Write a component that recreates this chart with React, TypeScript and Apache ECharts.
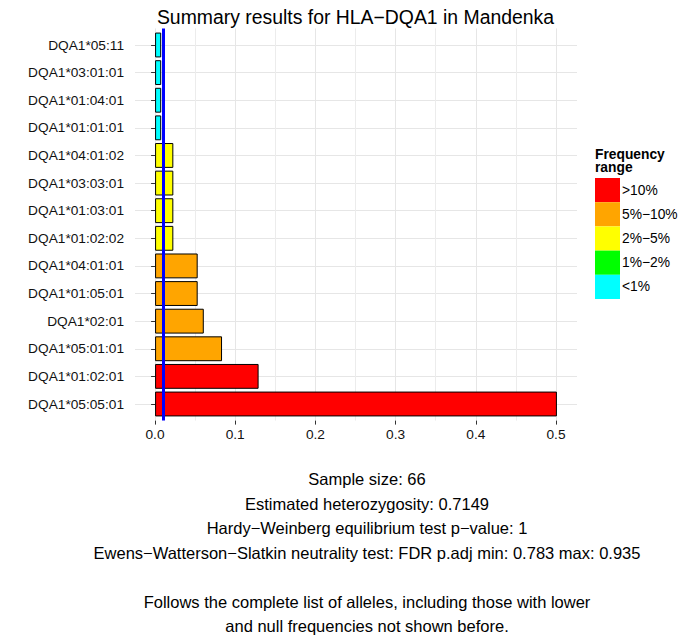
import React, { useEffect, useRef } from "react";
import * as echarts from "echarts";

const alleles = [
  "DQA1*05:11",
  "DQA1*03:01:01",
  "DQA1*01:04:01",
  "DQA1*01:01:01",
  "DQA1*04:01:02",
  "DQA1*03:03:01",
  "DQA1*01:03:01",
  "DQA1*01:02:02",
  "DQA1*04:01:01",
  "DQA1*01:05:01",
  "DQA1*02:01",
  "DQA1*05:01:01",
  "DQA1*01:02:01",
  "DQA1*05:05:01",
];
const frequencies = [
  0.0076, 0.0076, 0.0076, 0.0076, 0.0227, 0.0227, 0.0227, 0.0227, 0.053, 0.053,
  0.0606, 0.0833, 0.1288, 0.5,
];
const rangeNames = [">10%", "5%\u221210%", "2%\u22125%", "1%\u22122%", "<1%"];
const rangeLower = [0.1, 0.05, 0.02, 0.01, 0];
const rangeColors = ["#FF0000", "#FFA500", "#FFFF00", "#00FF00", "#00FFFF"];
const xTicks = [0, 0.1, 0.2, 0.3, 0.4, 0.5];
const thresholdLine = 0.0073;
const titleText = "Summary results for HLA\u2212DQA1 in Mandenka";
const footerLines = [
  "Sample size: 66",
  "Estimated heterozygosity: 0.7149",
  "Hardy\u2212Weinberg equilibrium test p\u2212value: 1",
  "Ewens\u2212Watterson\u2212Slatkin neutrality test: FDR p.adj min: 0.783 max: 0.935",
  "",
  "Follows the complete list of alleles, including those with lower",
  "and null frequencies not shown before.",
];

const FONT = "'Liberation Sans', Arial, Helvetica, sans-serif";

function rangeIndex(v: number): number {
  for (let i = 0; i < rangeLower.length; i++) {
    if (v > rangeLower[i]) return i;
  }
  return rangeLower.length - 1;
}

export default function App() {
  const ref = useRef<HTMLDivElement>(null);
  useEffect(() => {
    document.body.style.margin = "0";
    if (!ref.current) return;
    const chart = echarts.init(ref.current, null, { renderer: "svg" });

    const panelL = 135;
    const panelR = 577;
    const panelT = 28.4;
    const panelB = 420.6;
    const catTop = 45;
    const catBot = 404;
    const step = (catBot - catTop) / (alleles.length - 1);
    const zeroX = 155;
    const fullX = 556;

    const barSeries = rangeNames.map((name, ri) => ({
      name,
      type: "bar",
      stack: "total",
      xAxisIndex: 0,
      yAxisIndex: 0,
      barWidth: "90%",
      itemStyle: {
        color: rangeColors[ri],
        borderColor: "#000",
        borderWidth: 1,
      },
      data: frequencies.map((v) => (rangeIndex(v) === ri ? v : "-")),
    }));

    const footerGraphics = footerLines.map((t, i) => ({
      type: "text",
      x: 367,
      y: 479 + i * 24.5,
      style: {
        text: t,
        fill: "#000",
        font: `16.5px ${FONT}`,
        textAlign: "center",
        textVerticalAlign: "middle",
      },
    }));

    chart.setOption({
      animation: false,
      backgroundColor: "#fff",
      textStyle: { fontFamily: FONT },
      legend: {
        orient: "vertical",
        left: 595,
        top: 178,
        itemWidth: 25,
        itemHeight: 24.2,
        itemGap: 0,
        padding: 0,
        icon: "rect",
        data: rangeNames,
        itemStyle: { borderWidth: 0 },
        textStyle: { fontSize: 13.8, color: "#000", fontFamily: FONT, padding: [0, 0, 0, -3] },
        selectedMode: false,
      },
      grid: [
        {
          left: panelL,
          width: panelR - panelL,
          top: catTop - step / 2,
          height: step * alleles.length,
          containLabel: false,
        },
        {
          left: zeroX,
          width: fullX - zeroX,
          top: panelT,
          height: panelB - panelT,
          containLabel: false,
        },
        {
          left: panelL,
          width: panelR - panelL,
          top: catTop,
          height: catBot - catTop,
          containLabel: false,
        },
      ],
      xAxis: [
        {
          type: "value",
          gridIndex: 0,
          min: -0.025,
          max: 0.525,
          show: false,
        },
        {
          type: "value",
          gridIndex: 1,
          min: xTicks[0],
          max: xTicks[xTicks.length - 1],
          interval: 0.1,
          axisLine: { show: false },
          axisTick: { show: true, length: 4, lineStyle: { color: "#333", width: 1 } },
          axisLabel: {
            fontSize: 13.7,
            color: "#111",
            margin: 7,
            fontFamily: FONT,
            formatter: (v: number) => (v === 0 ? "0.0" : String(Math.round(v * 10) / 10)),
          },
          splitLine: { show: true, lineStyle: { color: "#e6e6e6", width: 1 } },
          minorTick: { show: false, splitNumber: 2 },
          minorSplitLine: { show: true, lineStyle: { color: "#ececec", width: 1 } },
        },
        {
          type: "value",
          gridIndex: 2,
          min: 0,
          max: 1,
          show: false,
        },
      ],
      yAxis: [
        {
          type: "category",
          gridIndex: 0,
          data: alleles,
          inverse: true,
          boundaryGap: true,
          axisLine: { show: false },
          axisTick: { show: true, alignWithLabel: true, length: 4, lineStyle: { color: "#333" } },
          axisLabel: { fontSize: 13.7, color: "#111", margin: 11, fontFamily: FONT },
          splitLine: { show: false },
        },
        {
          type: "value",
          gridIndex: 1,
          min: 0,
          max: 1,
          show: false,
        },
        {
          type: "value",
          gridIndex: 2,
          min: 0,
          max: alleles.length - 1,
          interval: 1,
          axisLine: { show: false },
          axisTick: { show: false },
          axisLabel: { show: false },
          splitLine: { show: true, lineStyle: { color: "#e6e6e6", width: 1 } },
        },
      ],
      series: [
        ...barSeries,
        {
          type: "scatter",
          name: "threshold",
          xAxisIndex: 1,
          yAxisIndex: 1,
          data: [],
          silent: true,
          markLine: {
            silent: true,
            symbol: ["none", "none"],
            label: { show: false },
            lineStyle: { color: "#0000FF", width: 3, type: "solid" },
            z: 10,
            data: [{ xAxis: thresholdLine }],
          },
        },
      ],
      graphic: [
        {
          type: "text",
          x: 355.5,
          y: 17,
          style: {
            text: titleText,
            fill: "#000",
            font: `19.4px ${FONT}`,
            textAlign: "center",
            textVerticalAlign: "middle",
          },
        },
        {
          type: "text",
          left: 595,
          top: 147,
          style: {
            text: "Frequency\nrange",
            fill: "#000",
            font: `bold 13.8px ${FONT}`,
            lineHeight: 13.5,
          },
        },
        ...footerGraphics,
      ],
    });
    return () => chart.dispose();
  }, []);
  return <div ref={ref} style={{ width: 697, height: 635 }} />;
}
